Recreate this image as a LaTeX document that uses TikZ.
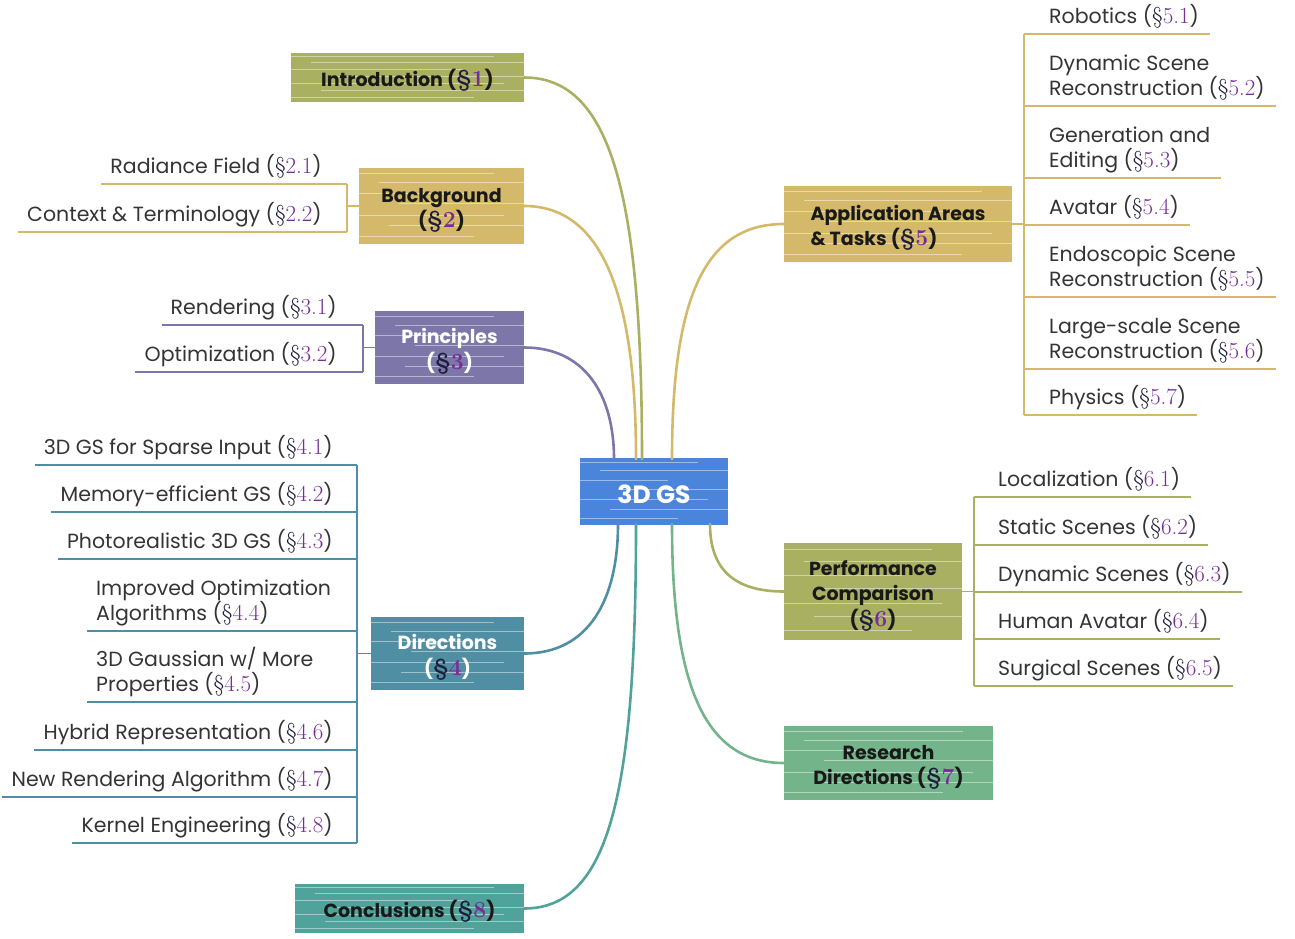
\documentclass[tikz,border=0pt]{standalone}
\usepackage{fontspec}
\setsansfont{Poppins}
\usetikzlibrary{calc}
\definecolor{cintro}{RGB}{169,176,98}
\definecolor{cbg}{RGB}{212,185,106}
\definecolor{cpr}{RGB}{124,119,168}
\definecolor{cdir}{RGB}{80,143,163}
\definecolor{ccon}{RGB}{80,163,154}
\definecolor{ccen}{RGB}{74,133,219}
\definecolor{cres}{RGB}{115,180,138}
\definecolor{secnum}{RGB}{118,46,150}
\definecolor{secsym}{RGB}{30,30,60}
\definecolor{itemtxt}{RGB}{52,52,52}
\newcommand{\mysec}[1]{{\rmfamily\fontsize{23}{25}\selectfont\textcolor{secsym}{\S}\textcolor{secnum}{#1}}}
\newcommand{\bx}[2][c]{\raisebox{-4pt}[\height][\depth]{\begin{tabular}{@{}#1@{}}#2\end{tabular}}}
\tikzset{
  sketchlines/.style={path picture={
    \foreach \f/\s/\e in {0.07/0pt/30pt,0.19/20pt/0pt,0.33/0pt/60pt,0.47/40pt/0pt,0.62/0pt/20pt,0.76/30pt/0pt,0.9/0pt/50pt}{
      \draw[white,opacity=0.45,line width=0.7pt,shorten <=\s,shorten >=\e]
        ($(path picture bounding box.north west)!\f!(path picture bounding box.south west)$) --
        ($(path picture bounding box.north east)!\f!(path picture bounding box.south east)$);
    }}},
  box/.style={fill=#1,draw=none,inner sep=0pt,text=black!90,
    font=\sffamily\bfseries\fontsize{19}{25.5}\selectfont,sketchlines},
  litem/.style={anchor=south east,inner xsep=9pt,inner ysep=10.5pt,text depth=0pt,align=left,
    text=itemtxt,font=\sffamily\fontsize{20.5}{25}\selectfont},
  lmitem/.style={litem,anchor=south west},
  ritem/.style={litem,anchor=south west,inner xsep=11pt},
  ul/.style={draw=#1,line width=2pt},
  brk/.style={draw=#1,line width=1.5pt},
  branch/.style={draw=#1,line width=2.6pt,line cap=round},
}
\begin{document}
\begin{tikzpicture}[x=1pt,y=-1pt]
\useasboundingbox (0,0) rectangle (1295,939);

% center anchor points for branches
\coordinate (cIntro) at (642,459);
\coordinate (cBg) at (636,459);
\coordinate (cPr) at (614,459);
\coordinate (cApp) at (672,459);
\coordinate (cDir) at (618,524);
\coordinate (cCon) at (636,524);
\coordinate (cRes) at (672,524);
\coordinate (cPerf) at (710,524);

% main boxes
\node[box=cintro,minimum width=233pt,minimum height=49pt] (intro) at (407.5,77.5) {\bx{Introduction (\mysec{1})}};
\node[box=cbg,minimum width=165pt,minimum height=76pt] (bg) at (441.5,206) {\bx{Background\\(\mysec{2})}};
\node[box=cpr,minimum width=149pt,minimum height=73pt,text=white] (pr) at (449.5,347.5) {\bx{Principles\\(\mysec{3})}};
\node[box=cdir,minimum width=153pt,minimum height=73pt,text=white] (dir) at (447.5,653.5) {\bx{Directions\\(\mysec{4})}};
\node[box=ccon,minimum width=229pt,minimum height=49pt] (con) at (409.5,908.5) {\bx{Conclusions (\mysec{8})}};
\node[box=ccen,minimum width=148pt,minimum height=67pt,text=white,font=\sffamily\bfseries\fontsize{25}{28}\selectfont] (cen) at (654,491.5) {\rule{0pt}{24pt}3D GS};
\node[box=cbg,minimum width=228pt,minimum height=76pt] (app) at (898,224) {\bx[l]{Application Areas\\\& Tasks (\mysec{5})}};
\node[box=cintro,minimum width=178pt,minimum height=97pt] (perf) at (873,591.5) {\bx{Performance\\Comparison\\(\mysec{6})}};
\node[box=cres,minimum width=209pt,minimum height=74pt] (res) at (888.5,763) {\bx{Research\\Directions (\mysec{7})}};

% branches
\draw[branch=cintro] (intro.east) .. controls +(85,0) and +(0,-270) .. (cIntro);
\draw[branch=cbg] (bg.east) .. controls +(80,0) and +(0,-160) .. (cBg);
\draw[branch=cpr] (pr.east) .. controls +(60,0) and +(0,-65) .. (cPr);
\draw[branch=cbg] (app.west) .. controls +(-80,0) and +(0,-160) .. (cApp);
\draw[branch=cdir] (dir.east) .. controls +(65,0) and +(0,75) .. (cDir);
\draw[branch=ccon] (con.east) .. controls +(85,0) and +(0,270) .. (cCon);
\draw[branch=cres] (res.west) .. controls +(-80,0) and +(0,160) .. (cRes);
\draw[branch=cintro] (perf.west) .. controls +(-50,0) and +(0,45) .. (cPerf);

% Background items
\coordinate (b2t) at (347,184); \coordinate (b2b) at (347,232);
\node[litem] (i21) at (331,184) {Radiance Field (\mysec{2.1})};
\node[litem] (i22) at (331,232) {Context \& Terminology (\mysec{2.2})};
\foreach \n in {i21,i22} \draw[ul=cbg] (\n.south west) -- (\n.south west -| b2t);
\draw[brk=cbg] (b2t) -- (b2b);
\draw[brk=cbg] (bg.west) -- (bg.west -| b2t);

% Principles items
\coordinate (b3t) at (363,325); \coordinate (b3b) at (363,372);
\node[litem] (i31) at (346,325) {Rendering (\mysec{3.1})};
\node[litem] (i32) at (346,372) {Optimization (\mysec{3.2})};
\foreach \n in {i31,i32} \draw[ul=cpr] (\n.south west) -- (\n.south west -| b3t);
\draw[brk=cpr] (b3t) -- (b3b);
\draw[brk=cpr] (pr.west) -- (pr.west -| b3t);

% Directions items
\coordinate (b4t) at (357,465); \coordinate (b4b) at (357,843);
\node[litem] (i41) at (342,465) {3D GS for Sparse Input (\mysec{4.1})};
\node[litem] (i42) at (342,512) {Memory-efficient GS (\mysec{4.2})};
\node[litem] (i43) at (342,559) {Photorealistic 3D GS (\mysec{4.3})};
\node[lmitem] (i44) at (87,631) {Improved Optimization\\Algorithms (\mysec{4.4})};
\node[lmitem] (i45) at (87,702) {3D Gaussian w/ More\\Properties (\mysec{4.5})};
\node[litem] (i46) at (342,750) {Hybrid Representation (\mysec{4.6})};
\node[litem] (i47) at (342,797) {New Rendering Algorithm (\mysec{4.7})};
\node[litem] (i48) at (342,843) {Kernel Engineering (\mysec{4.8})};
\foreach \n in {i41,i42,i43,i44,i45,i46,i47,i48} \draw[ul=cdir] (\n.south west) -- (\n.south west -| b4t);
\draw[brk=cdir] (b4t) -- (b4b);
\draw[brk=cdir] (dir.west) -- (dir.west -| b4t);

% Application items
\coordinate (b5t) at (1024,34); \coordinate (b5b) at (1024,415);
\node[ritem] (i51) at (1038,34) {Robotics (\mysec{5.1})};
\node[ritem] (i52) at (1038,106) {Dynamic Scene\\Reconstruction (\mysec{5.2})};
\node[ritem] (i53) at (1038,178) {Generation and\\Editing (\mysec{5.3})};
\node[ritem] (i54) at (1038,225) {Avatar (\mysec{5.4})};
\node[ritem] (i55) at (1038,297) {Endoscopic Scene\\Reconstruction (\mysec{5.5})};
\node[ritem] (i56) at (1038,369) {Large-scale Scene\\Reconstruction (\mysec{5.6})};
\node[ritem] (i57) at (1038,415) {Physics (\mysec{5.7})};
\foreach \n in {i51,i52,i53,i54,i55,i56,i57} \draw[ul=cbg] (\n.south west -| b5t) -- (\n.south east);
\draw[brk=cbg] (b5t) -- (b5b);
\draw[brk=cbg] (app.east) -- (app.east -| b5t);

% Performance items
\coordinate (b6t) at (974,497); \coordinate (b6b) at (974,686);
\node[ritem] (i61) at (987,497) {Localization (\mysec{6.1})};
\node[ritem] (i62) at (987,545) {Static Scenes (\mysec{6.2})};
\node[ritem] (i63) at (987,592) {Dynamic Scenes (\mysec{6.3})};
\node[ritem] (i64) at (987,639) {Human Avatar (\mysec{6.4})};
\node[ritem] (i65) at (987,686) {Surgical Scenes (\mysec{6.5})};
\foreach \n in {i61,i62,i63,i64,i65} \draw[ul=cintro] (\n.south west -| b6t) -- (\n.south east);
\draw[brk=cintro] (b6t) -- (b6b);
\draw[brk=cintro] (perf.east) -- (perf.east -| b6t);
\end{tikzpicture}
\end{document}
